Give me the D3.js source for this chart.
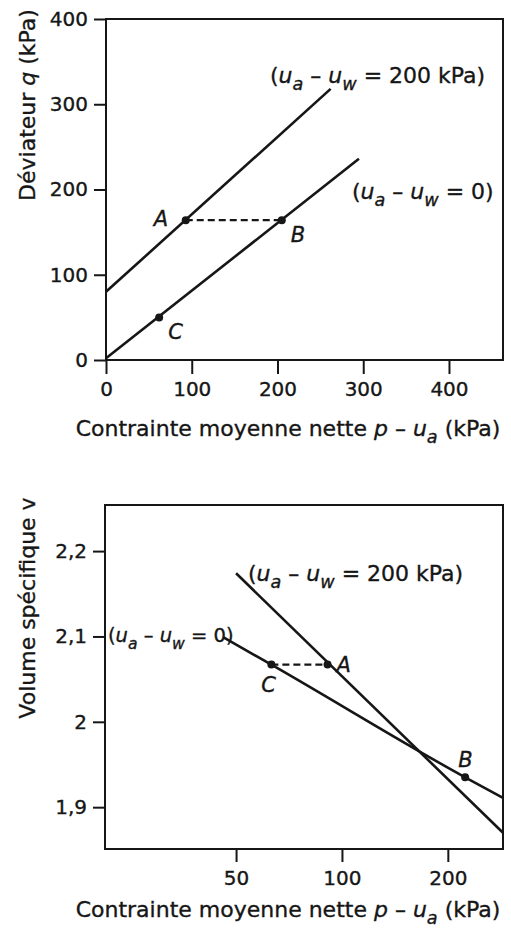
<!DOCTYPE html>
<html>
<head>
<meta charset="utf-8">
<script src="https://cdn.jsdelivr.net/npm/d3@7"></script>
<style>
  html, body { margin: 0; padding: 0; background: #fff; }
  svg { display: block; }
  text { font-family: "DejaVu Sans", "Liberation Sans", Arial, sans-serif; fill: #161616;
         stroke: #161616; stroke-width: 0.35px; }
</style>
</head>
<body>
<svg id="fig" width="511" height="933"></svg>
<script>
// ---- Upper diagram: deviator stress q against net mean stress p - ua ----
const qTicksX = [0, 100, 200, 300, 400];
const qTicksY = [0, 100, 200, 300, 400];
const pSuction200 = [0, 262];          // kPa
const qSuction200 = [80, 318];         // kPa
const pSaturated = [0, 295];
const qSaturated = [2, 236];
const qPointNames = ["A", "B", "C"];
const qPointP = [93, 205, 62];
const qPointQ = [164, 164, 50];

// ---- Lower diagram: specific volume v against net mean stress (log scale) ----
const vTicksX = [50, 100, 200];
const vTicksY = [1.9, 2.0, 2.1, 2.2];
const vTickLabels = ["1,9", "2", "2,1", "2,2"];
const pLogSuction200 = [50, 287];
const vSuction200 = [2.174, 1.870];
const pLogSaturated = [46, 63, 224, 287];
const vSaturated = [2.099, 2.067, 1.935, 1.911];
const vPointNames = ["A", "C", "B"];
const vPointP = [91, 63, 224];
const vPointV = [2.067, 2.067, 1.935];

const svg = d3.select("#fig");
const INK = "#161616";
const TICK_FONT = 20;
const LABEL_FONT = 22;

// helper: "(ua − uw = …)" label with italic u and subscripts
function suctionLabel(g, x, y, tail, size) {
  const t = g.append("text").attr("x", x).attr("y", y).attr("font-size", size);
  t.append("tspan").text("(");
  t.append("tspan").attr("font-style", "italic").text("u");
  t.append("tspan").attr("font-style", "italic").attr("font-size", size * 0.8).attr("dy", 7).text("a");
  t.append("tspan").attr("dy", -7).text(" \u2013 ");
  t.append("tspan").attr("font-style", "italic").text("u");
  t.append("tspan").attr("font-style", "italic").attr("font-size", size * 0.8).attr("dy", 7).text("w");
  t.append("tspan").attr("dy", -7).text(tail);
  return t;
}

function xTitle(g, cx, y) {
  const t = g.append("text").attr("x", cx).attr("y", y).attr("text-anchor", "middle").attr("font-size", LABEL_FONT);
  t.append("tspan").text("Contrainte moyenne nette ");
  t.append("tspan").attr("font-style", "italic").text("p");
  t.append("tspan").text(" \u2013 ");
  t.append("tspan").attr("font-style", "italic").text("u");
  t.append("tspan").attr("font-style", "italic").attr("font-size", LABEL_FONT * 0.8).attr("dy", 7).text("a");
  t.append("tspan").attr("dy", -7).text(" (kPa)");
}

function styleAxis(g) {
  g.select(".domain").remove();
  g.selectAll(".tick line").attr("stroke", INK).attr("stroke-width", 2);
  g.selectAll(".tick text").attr("font-size", TICK_FONT).attr("fill", INK)
    .attr("font-family", "DejaVu Sans, Liberation Sans, sans-serif");
}

// ================= Upper diagram =================
{
  const L = 106, R = 503, T = 19, B = 360;
  const x = d3.scaleLinear().domain([0, 463]).range([L, R]);
  const y = d3.scaleLinear().domain([0, 400]).range([B, T]);
  const g = svg.append("g");

  const ax = g.append("g").attr("transform", `translate(0,${B})`)
    .call(d3.axisBottom(x).tickValues(qTicksX).tickSize(14).tickPadding(8).tickFormat(d3.format("d")));
  styleAxis(ax);
  const ay = g.append("g").attr("transform", `translate(${L},0)`)
    .call(d3.axisLeft(y).tickValues(qTicksY).tickSize(12).tickPadding(6).tickFormat(d3.format("d")));
  styleAxis(ay);

  g.append("rect").attr("x", L).attr("y", T).attr("width", R - L).attr("height", B - T)
    .attr("fill", "none").attr("stroke", INK).attr("stroke-width", 2);

  const line = d3.line().x(d => x(d[0])).y(d => y(d[1]));
  g.append("path").datum(d3.zip(pSuction200, qSuction200)).attr("d", line)
    .attr("fill", "none").attr("stroke", INK).attr("stroke-width", 2.6);
  g.append("path").datum(d3.zip(pSaturated, qSaturated)).attr("d", line)
    .attr("fill", "none").attr("stroke", INK).attr("stroke-width", 2.6);

  // A–B constant deviator path
  g.append("line").attr("x1", x(qPointP[0])).attr("x2", x(qPointP[1]))
    .attr("y1", y(qPointQ[0])).attr("y2", y(qPointQ[1]))
    .attr("stroke", INK).attr("stroke-width", 2.2).attr("stroke-dasharray", "7,4");

  g.selectAll("circle.pt").data(d3.range(qPointNames.length)).join("circle")
    .attr("cx", i => x(qPointP[i])).attr("cy", i => y(qPointQ[i])).attr("r", 4).attr("fill", INK);

  const qLabelOffsets = [[-32, 6], [9, 22], [9, 22]];
  g.selectAll("text.pl").data(d3.range(qPointNames.length)).join("text")
    .attr("x", i => x(qPointP[i]) + qLabelOffsets[i][0])
    .attr("y", i => y(qPointQ[i]) + qLabelOffsets[i][1])
    .attr("font-size", 21).attr("font-style", "italic").text(i => qPointNames[i]);

  suctionLabel(g, 270, 83, " = 200 kPa)", LABEL_FONT);
  suctionLabel(g, 352, 199, " = 0)", LABEL_FONT);

  xTitle(g, 288, 436);
  const yt = g.append("text").attr("transform", "translate(35,105) rotate(-90)")
    .attr("text-anchor", "middle").attr("font-size", LABEL_FONT);
  yt.append("tspan").text("D\u00e9viateur ");
  yt.append("tspan").attr("font-style", "italic").text("q");
  yt.append("tspan").text(" (kPa)");
}

// ================= Lower diagram =================
{
  const L = 105, R = 503, T = 505, B = 849;
  const x = d3.scaleLog().domain([21.2, 287]).range([L, R]);
  const y = d3.scaleLinear().domain([1.851, 2.254]).range([B, T]);
  const g = svg.append("g");

  const ax = g.append("g").attr("transform", `translate(0,${B})`)
    .call(d3.axisBottom(x).tickValues(vTicksX).tickSize(13).tickPadding(9).tickFormat(d3.format("d")));
  styleAxis(ax);
  const ay = g.append("g").attr("transform", `translate(${L},0)`)
    .call(d3.axisLeft(y).tickValues(vTicksY).tickSize(12).tickPadding(6)
      .tickFormat((d, i) => vTickLabels[i]));
  styleAxis(ay);

  g.append("rect").attr("x", L).attr("y", T).attr("width", R - L).attr("height", B - T)
    .attr("fill", "none").attr("stroke", INK).attr("stroke-width", 2);

  const line = d3.line().x(d => x(d[0])).y(d => y(d[1]));
  g.append("path").datum(d3.zip(pLogSuction200, vSuction200)).attr("d", line)
    .attr("fill", "none").attr("stroke", INK).attr("stroke-width", 2.6);
  g.append("path").datum(d3.zip(pLogSaturated, vSaturated)).attr("d", line.curve(d3.curveMonotoneX))
    .attr("fill", "none").attr("stroke", INK).attr("stroke-width", 2.6);

  // C–A path at constant specific volume
  g.append("line").attr("x1", x(vPointP[1])).attr("x2", x(vPointP[0]))
    .attr("y1", y(vPointV[1])).attr("y2", y(vPointV[0]))
    .attr("stroke", INK).attr("stroke-width", 2.2).attr("stroke-dasharray", "7,4");

  g.selectAll("circle.pt").data(d3.range(vPointNames.length)).join("circle")
    .attr("cx", i => x(vPointP[i])).attr("cy", i => y(vPointV[i])).attr("r", 4).attr("fill", INK);

  const vLabelOffsets = [[9, 7], [-10, 27], [-7, -10]];
  g.selectAll("text.pl").data(d3.range(vPointNames.length)).join("text")
    .attr("x", i => x(vPointP[i]) + vLabelOffsets[i][0])
    .attr("y", i => y(vPointV[i]) + vLabelOffsets[i][1])
    .attr("font-size", 21).attr("font-style", "italic").text(i => vPointNames[i]);

  suctionLabel(g, 248, 581, " = 200 kPa)", LABEL_FONT);
  suctionLabel(g, 108, 642, " = 0)", 19.5);

  xTitle(g, 288, 917);
  const yt = g.append("text").attr("transform", "translate(35,608) rotate(-90)")
    .attr("text-anchor", "middle").attr("font-size", LABEL_FONT);
  yt.append("tspan").text("Volume sp\u00e9cifique v");
}
</script>
</body>
</html>
